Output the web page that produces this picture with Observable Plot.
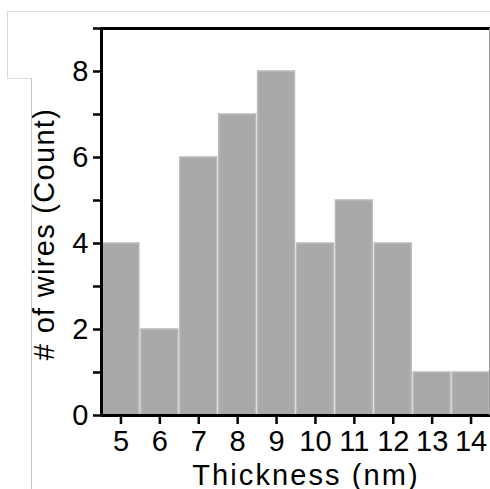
<!DOCTYPE html>
<html><head><meta charset="utf-8">
<script src="https://cdn.jsdelivr.net/npm/d3@7"></script>
<script src="https://cdn.jsdelivr.net/npm/@observablehq/plot@0.6"></script>
<style>
html,body{margin:0;padding:0;background:#fff;}
#wrap{position:relative;width:490px;height:489px;overflow:hidden;}
.deco{position:absolute;background:#d9d9d9;}
#wrap svg{position:absolute;left:0;top:0;}
.xlab{letter-spacing:2.1px;}
.ylab{letter-spacing:1.3px;}
</style></head><body>
<div id="wrap">
  <div class="deco" style="left:7px;top:11px;width:483px;height:1px;background:#e0e0e0"></div>
  <div class="deco" style="left:7px;top:11px;width:1px;height:67px;"></div>
  <div class="deco" style="left:7px;top:78px;width:24px;height:1px;"></div>
  <div class="deco" style="left:31px;top:78px;width:1px;height:411px;background:#c6c6c6"></div>
</div>
<script>
const thickness = [5, 6, 7, 8, 9, 10, 11, 12, 13, 14];
const counts = [4, 2, 6, 7, 8, 4, 5, 4, 1, 1];
const yTicks = [0, 1, 2, 3, 4, 5, 6, 7, 8, 9];
const xLabel = "Thickness (nm)";
const yLabel = "# of wires (Count)";

const data = thickness.map((t, i) => ({x: t, count: counts[i]}));
const xMin = thickness[0] - 0.5, xMax = thickness[thickness.length - 1] + 0.5;
const yMax = yTicks[yTicks.length - 1];

const chart = Plot.plot({
  width: 490, height: 489,
  marginLeft: 101, marginRight: 0, marginTop: 28, marginBottom: 74,
  style: {fontFamily: "'Liberation Sans', Arial, sans-serif", color: "#000", background: "transparent"},
  x: {domain: [xMin, xMax]},
  y: {domain: [0, yMax]},
  marks: [
    Plot.rectY(data, {x1: d => d.x - 0.5, x2: d => d.x + 0.5, y: "count",
      fill: "#a9a9a9", stroke: "#bababa", strokeWidth: 1.5, insetLeft: 1, insetRight: 1}),
    Plot.axisX({ticks: thickness, tickSize: 9, tickPadding: 6, fontSize: 29, strokeWidth: 2.5,
      label: null, tickFormat: d => String(d)}),
    Plot.axisY({ticks: yTicks, tickSize: 8, tickPadding: 5, fontSize: 29, strokeWidth: 2.5,
      label: null, tickFormat: d => (d % 2 === 0 ? String(d) : "")}),
    Plot.ruleY([0], {stroke: "#000", strokeWidth: 3}),
    Plot.ruleY([yMax], {stroke: "#000", strokeWidth: 3}),
    Plot.ruleX([xMin], {stroke: "#000", strokeWidth: 3}),
    Plot.ruleX([xMax], {stroke: "#999", strokeWidth: 1, dx: -1}),
    Plot.text([xLabel], {frameAnchor: "bottom", lineAnchor: "bottom", textAnchor: "middle", dx: 10, dy: 69,
      fontSize: 29, fill: "#000", className: "xlab"}),
    Plot.text([yLabel], {frameAnchor: "left", rotate: -90, textAnchor: "middle", lineAnchor: "middle",
      dx: -57, dy: 12, fontSize: 29, fill: "#000", className: "ylab"})
  ]
});
document.getElementById("wrap").appendChild(chart);
</script>
</body></html>
